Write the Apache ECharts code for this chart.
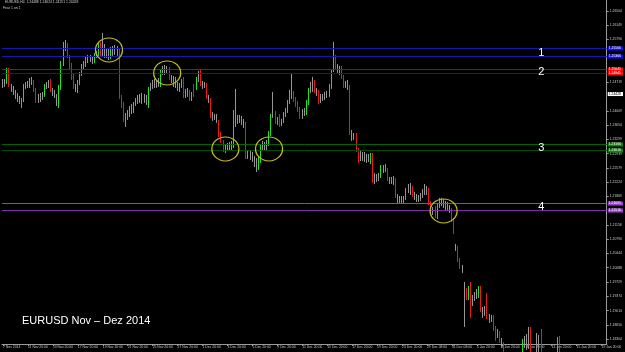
<!DOCTYPE html>
<html>
<head>
<meta charset="utf-8">
<script src="https://cdn.jsdelivr.net/npm/echarts@6/dist/echarts.min.js"></script>
<style>
  html, body { margin: 0; padding: 0; background: #000; }
  #chart { width: 625px; height: 352px; }
</style>
</head>
<body>
<div id="chart"></div>
<script>
// EURUSD H4 candles, 7 Nov 2014 .. 15 Jan 2015, one row = 12 bars (2 days)
const dateLabels = [
  '7 Nov 2014', '11 Nov 20:00', '13 Nov 20:00', '17 Nov 20:00', '19 Nov 20:00',
  '21 Nov 20:00', '25 Nov 20:00', '27 Nov 20:00', '1 Dec 20:00', '3 Dec 20:00',
  '5 Dec 20:00', '9 Dec 20:00', '11 Dec 20:00', '15 Dec 20:00', '17 Dec 20:00',
  '19 Dec 20:00', '23 Dec 20:00', '29 Dec 08:00', '31 Dec 08:00', '5 Jan 20:00',
  '7 Jan 20:00', '9 Jan 20:00', '13 Jan 20:00', '15 Jan 20:00', '19 Jan 20:00'
]
const slotCount = 291

const opens = [
  1.2473, 1.2468, 1.2473, 1.2503, 1.2463, 1.2458, 1.2448, 1.24405, 1.2433, 1.24155, 1.2428, 1.2463,
  1.2463, 1.24605, 1.2478, 1.2473, 1.2453, 1.2428, 1.24355, 1.2433, 1.24405, 1.2463, 1.24655, 1.24755,
  1.2453, 1.24455, 1.2438, 1.2418, 1.2458, 1.25155, 1.2558, 1.25655, 1.2533, 1.2513, 1.2483, 1.24605,
  1.24505, 1.24705, 1.2493, 1.2513, 1.25155, 1.2533, 1.2528, 1.25305, 1.25255, 1.25405, 1.25405, 1.25655,
  1.2543, 1.2548, 1.25405, 1.25455, 1.25355, 1.25505, 1.25455, 1.25405, 1.2553, 1.24355, 1.2418, 1.2368,
  1.23855, 1.2393, 1.2408, 1.24005, 1.2418, 1.24255, 1.2433, 1.24255, 1.24355, 1.2428, 1.2413, 1.24555,
  1.2463, 1.2468, 1.2463, 1.24705, 1.24655, 1.2498, 1.2503, 1.2498, 1.2503, 1.2483, 1.24655, 1.2478,
  1.2468, 1.2458, 1.2463, 1.24805, 1.24405, 1.2448, 1.24455, 1.24305, 1.2463, 1.2458, 1.2478, 1.24955,
  1.2468, 1.2463, 1.24655, 1.24355, 1.2428, 1.2388, 1.2383, 1.23855, 1.2373, 1.23405, 1.2323, 1.2303,
  1.2308, 1.2313, 1.2308, 1.2313, 1.2393, 1.2383, 1.2378, 1.2383, 1.2373, 1.23655, 1.2288, 1.22955,
  1.2288, 1.22805, 1.22705, 1.2263, 1.2278, 1.23105, 1.23155, 1.23105, 1.2318, 1.2343, 1.2388, 1.23955,
  1.2373, 1.2388, 1.2368, 1.23755, 1.23905, 1.24005, 1.2423, 1.24355, 1.2443, 1.2428, 1.2418, 1.24055,
  1.2388, 1.23955, 1.23955, 1.2418, 1.2453, 1.2458, 1.2473, 1.24505, 1.2448, 1.24255, 1.2433, 1.24355,
  1.2438, 1.24405, 1.24605, 1.2503, 1.2533, 1.25105, 1.2503, 1.2508, 1.24855, 1.2463, 1.2468, 1.24605,
  1.2343, 1.2333, 1.23405, 1.2303, 1.2283, 1.22905, 1.2283, 1.2288, 1.22805, 1.2273, 1.22905, 1.22255,
  1.22355, 1.22305, 1.2238, 1.2258, 1.2253, 1.2253, 1.22305, 1.22255, 1.2228, 1.2228, 1.2188, 1.2178,
  1.21805, 1.21755, 1.2183, 1.2203, 1.2208, 1.2208, 1.21905, 1.21855, 1.21805, 1.2183, 1.2188, 1.21955,
  1.2203, 1.2203, 1.21705, 1.2148, 1.2158, 1.21355, 1.2163, 1.21705, 1.21755, 1.21555, 1.2168, 1.2158,
  1.2153, 1.2128, 1.2063, 1.2058, 1.2028, 1.20105, 1.19505, 1.1953, 1.1933, 1.1953, 1.19205, 1.19305,
  1.1938, 1.1938, 1.1958, 1.1903, 1.18955, 1.1938, 1.18855, 1.1878, 1.18855, 1.1858, 1.18405, 1.18455,
  1.18255, 1.1818, 1.1798, 1.17905, 1.1783, 1.1763, 1.17705, 1.1778, 1.1773, 1.1783, 1.1798, 1.18255,
  1.18205, 1.1813, 1.1853, 1.1803, 1.1793, 1.18005, 1.1813, 1.18505, 1.1803, 1.1788, 1.1783, 1.17905,
  1.17855, 1.1793, 1.1798, 1.1798, 1.1833, 1.1803
]
const closes = [
  1.2468, 1.2473, 1.2503, 1.24655, 1.2458, 1.2448, 1.2438, 1.2433, 1.24255, 1.2428, 1.2463, 1.24655,
  1.2468, 1.2478, 1.2473, 1.2453, 1.24255, 1.24355, 1.24305, 1.24405, 1.2463, 1.24655, 1.24705, 1.2453,
  1.24455, 1.2438, 1.2433, 1.2458, 1.25205, 1.2558, 1.25655, 1.2538, 1.2513, 1.2483, 1.24605, 1.24555,
  1.24705, 1.2493, 1.2513, 1.2518, 1.2533, 1.2528, 1.2533, 1.25255, 1.25405, 1.2543, 1.25655, 1.2543,
  1.2548, 1.25405, 1.25455, 1.25405, 1.25505, 1.25455, 1.2548, 1.25555, 1.24355, 1.24155, 1.2378, 1.2388,
  1.23955, 1.2408, 1.2403, 1.2418, 1.24255, 1.2433, 1.24255, 1.24355, 1.2428, 1.2433, 1.24555, 1.2463,
  1.2468, 1.2463, 1.24705, 1.24655, 1.2498, 1.2503, 1.2498, 1.2503, 1.2483, 1.2478, 1.2483, 1.2468,
  1.2458, 1.2463, 1.2473, 1.2438, 1.2448, 1.2443, 1.2428, 1.2438, 1.24455, 1.2478, 1.2488, 1.2468,
  1.2463, 1.2468, 1.24355, 1.2428, 1.2388, 1.2383, 1.23855, 1.2378, 1.23405, 1.23255, 1.2303, 1.2308,
  1.2313, 1.2308, 1.23155, 1.23955, 1.2383, 1.2378, 1.2383, 1.2373, 1.23655, 1.22855, 1.22955, 1.2288,
  1.22805, 1.22705, 1.2263, 1.2283, 1.2313, 1.23155, 1.2308, 1.2318, 1.23455, 1.2388, 1.2393, 1.2373,
  1.2378, 1.23655, 1.2373, 1.2393, 1.2403, 1.2423, 1.2433, 1.2443, 1.2428, 1.24155, 1.2403, 1.23855,
  1.23955, 1.2398, 1.24205, 1.2453, 1.2458, 1.2463, 1.24505, 1.24455, 1.2423, 1.2433, 1.24355, 1.24405,
  1.2443, 1.2463, 1.2498, 1.2533, 1.25105, 1.2503, 1.2498, 1.24855, 1.2463, 1.2468, 1.24605, 1.23455,
  1.2333, 1.2338, 1.2303, 1.2283, 1.22905, 1.2283, 1.2288, 1.22805, 1.22855, 1.22905, 1.22255, 1.22355,
  1.22305, 1.2238, 1.2258, 1.2253, 1.22605, 1.22305, 1.22255, 1.2228, 1.2223, 1.2188, 1.2178, 1.21805,
  1.21755, 1.21805, 1.2203, 1.2208, 1.2203, 1.21905, 1.21855, 1.21805, 1.2183, 1.2188, 1.21955, 1.2203,
  1.2198, 1.21705, 1.2148, 1.2153, 1.2138, 1.2163, 1.21705, 1.21755, 1.2168, 1.21705, 1.2158, 1.2153,
  1.2128, 1.2098, 1.2058, 1.2028, 1.20105, 1.2003, 1.19455, 1.1933, 1.1953, 1.1913, 1.19305, 1.1938,
  1.1948, 1.19555, 1.1903, 1.1893, 1.1903, 1.18855, 1.1878, 1.1883, 1.18555, 1.18305, 1.1848, 1.18255,
  1.1818, 1.1798, 1.17905, 1.1783, 1.1763, 1.17705, 1.1778, 1.1773, 1.1783, 1.1793, 1.18255, 1.18205,
  1.1813, 1.1823, 1.1803, 1.1793, 1.18005, 1.18105, 1.18055, 1.1803, 1.1788, 1.1783, 1.17905, 1.17855,
  1.1793, 1.1798, 1.17905, 1.1828, 1.1803, 1.1798
]
const lows = [
  1.2458, 1.24605, 1.2468, 1.24605, 1.2448, 1.24405, 1.24305, 1.2423, 1.2418, 1.2408, 1.2423, 1.24555,
  1.2458, 1.2458, 1.24655, 1.2448, 1.24205, 1.24205, 1.2423, 1.2428, 1.24355, 1.24555, 1.2458, 1.2448,
  1.2438, 1.2433, 1.2413, 1.2408, 1.2453, 1.2513, 1.25505, 1.2533, 1.2503, 1.2478, 1.24555, 1.2448,
  1.24455, 1.24655, 1.2488, 1.25055, 1.25105, 1.25205, 1.2523, 1.2518, 1.25205, 1.2533, 1.2538, 1.25355,
  1.25355, 1.2533, 1.2533, 1.2528, 1.25305, 1.2538, 1.25405, 1.2538, 1.24305, 1.2408, 1.2373, 1.23605,
  1.2378, 1.23855, 1.2393, 1.23955, 1.2413, 1.2418, 1.24205, 1.2418, 1.24205, 1.24155, 1.2408, 1.24505,
  1.24555, 1.2458, 1.2458, 1.24605, 1.24605, 1.24905, 1.24905, 1.2493, 1.2478, 1.24705, 1.24605, 1.2458,
  1.24505, 1.2448, 1.2458, 1.2433, 1.2433, 1.24355, 1.24255, 1.24255, 1.24355, 1.2453, 1.2473, 1.2463,
  1.24555, 1.2458, 1.24305, 1.24205, 1.2383, 1.23755, 1.2378, 1.23705, 1.23355, 1.23205, 1.2298, 1.22955,
  1.23005, 1.2303, 1.23005, 1.2308, 1.23605, 1.2368, 1.23705, 1.23655, 1.2358, 1.22805, 1.22805, 1.2278,
  1.2273, 1.22605, 1.2248, 1.2253, 1.22705, 1.23005, 1.23005, 1.2303, 1.2313, 1.2338, 1.2383, 1.2368,
  1.23655, 1.23605, 1.2363, 1.23705, 1.23855, 1.23955, 1.2418, 1.24305, 1.2423, 1.24105, 1.2398, 1.23805,
  1.23805, 1.2388, 1.23905, 1.24155, 1.24455, 1.2448, 1.24455, 1.2438, 1.2418, 1.24205, 1.24255, 1.2428,
  1.2433, 1.24355, 1.24555, 1.2498, 1.25055, 1.24955, 1.24905, 1.24805, 1.2458, 1.2458, 1.2453, 1.23405,
  1.23255, 1.2328, 1.2298, 1.22705, 1.22755, 1.22755, 1.2273, 1.22705, 1.2273, 1.2268, 1.22205, 1.2218,
  1.2223, 1.22255, 1.2233, 1.22455, 1.2248, 1.22255, 1.2218, 1.2218, 1.22155, 1.2183, 1.21705, 1.21705,
  1.2168, 1.21705, 1.2178, 1.21955, 1.21905, 1.21855, 1.2178, 1.2173, 1.2173, 1.21755, 1.2183, 1.21905,
  1.21905, 1.21655, 1.2143, 1.21405, 1.2133, 1.21305, 1.2158, 1.2163, 1.2158, 1.21505, 1.21505, 1.21455,
  1.2123, 1.2093, 1.20505, 1.2023, 1.20055, 1.19955, 1.18605, 1.1928, 1.1928, 1.1883, 1.1913, 1.19255,
  1.19305, 1.1933, 1.1898, 1.1883, 1.1888, 1.18805, 1.18705, 1.1873, 1.18505, 1.18255, 1.1833, 1.18205,
  1.1808, 1.17905, 1.1778, 1.1773, 1.1753, 1.17555, 1.1763, 1.1763, 1.1768, 1.17755, 1.1793, 1.1808,
  1.1803, 1.18055, 1.17955, 1.1783, 1.17855, 1.17955, 1.1798, 1.1798, 1.1778, 1.1773, 1.17755, 1.17755,
  1.1778, 1.1783, 1.1783, 1.1793, 1.17955, 1.1788
]
const highs = [
  1.24805, 1.24805, 1.2508, 1.2508, 1.2468, 1.2463, 1.2453, 1.24455, 1.2438, 1.2433, 1.2468, 1.2473,
  1.24755, 1.2483, 1.24855, 1.2478, 1.2458, 1.2443, 1.24455, 1.2448, 1.2468, 1.2473, 1.2478, 1.24805,
  1.2458, 1.2453, 1.2443, 1.24655, 1.25255, 1.2573, 1.2578, 1.25705, 1.25405, 1.25205, 1.2493, 1.2468,
  1.2478, 1.2498, 1.2518, 1.25255, 1.2538, 1.25405, 1.25405, 1.2538, 1.25455, 1.25505, 1.25705, 1.2573,
  1.25955, 1.2568, 1.25555, 1.2558, 1.25605, 1.2563, 1.25655, 1.2563, 1.2558, 1.24405, 1.2423, 1.23955,
  1.2403, 1.2413, 1.2418, 1.2423, 1.2433, 1.24405, 1.2443, 1.24455, 1.2443, 1.24405, 1.24605, 1.24705,
  1.2478, 1.24805, 1.2478, 1.2483, 1.2503, 1.2513, 1.25155, 1.2513, 1.25105, 1.24905, 1.2488, 1.24855,
  1.2473, 1.24705, 1.24805, 1.24855, 1.24555, 1.2458, 1.2453, 1.2448, 1.2468, 1.24855, 1.25005, 1.25055,
  1.24755, 1.2473, 1.24705, 1.24405, 1.2433, 1.2398, 1.2393, 1.2393, 1.2378, 1.2348, 1.2328, 1.23155,
  1.23205, 1.2323, 1.23255, 1.2403, 1.24555, 1.23905, 1.23905, 1.2388, 1.23805, 1.2373, 1.2303, 1.2303,
  1.2298, 1.2288, 1.2283, 1.2288, 1.2318, 1.23255, 1.2323, 1.2328, 1.23505, 1.2393, 1.2448, 1.24005,
  1.23855, 1.2393, 1.23805, 1.2398, 1.2408, 1.2428, 1.2453, 1.24955, 1.24505, 1.24355, 1.24255, 1.24105,
  1.24055, 1.2408, 1.2428, 1.2458, 1.2473, 1.24855, 1.2478, 1.2458, 1.2453, 1.2443, 1.2443, 1.2448,
  1.24505, 1.2468, 1.2503, 1.2573, 1.25405, 1.2518, 1.2513, 1.2513, 1.24905, 1.24755, 1.2478, 1.24655,
  1.2353, 1.23455, 1.23455, 1.2308, 1.23005, 1.2298, 1.2298, 1.2293, 1.2293, 1.22955, 1.22955, 1.22455,
  1.2243, 1.22455, 1.22655, 1.22655, 1.2268, 1.2258, 1.22355, 1.22355, 1.2238, 1.2233, 1.2193, 1.2188,
  1.2188, 1.2188, 1.2208, 1.2218, 1.22205, 1.2213, 1.2198, 1.2193, 1.21905, 1.21955, 1.22055, 1.2218,
  1.2213, 1.2208, 1.21755, 1.21605, 1.2163, 1.2168, 1.2183, 1.2183, 1.21805, 1.21755, 1.2173, 1.21655,
  1.2158, 1.2133, 1.2068, 1.2063, 1.2033, 1.20155, 1.1973, 1.1958, 1.1963, 1.1973, 1.19405, 1.1948,
  1.19555, 1.1963, 1.1963, 1.19105, 1.1913, 1.19455, 1.1893, 1.18905, 1.18905, 1.1863, 1.18555, 1.18505,
  1.1833, 1.1823, 1.1808, 1.18005, 1.1793, 1.1783, 1.17905, 1.1798, 1.1803, 1.1813, 1.18305, 1.1838,
  1.1843, 1.18605, 1.18605, 1.1813, 1.18155, 1.18455, 1.18405, 1.18555, 1.18105, 1.18005, 1.1803, 1.18055,
  1.1808, 1.18105, 1.1813, 1.18355, 1.1838, 1.18155
]

const priceTicks = [
  1.26504, 1.26149, 1.25790, 1.24719, 1.24009, 1.23654, 1.23299, 1.22939, 1.22579, 1.22224,
  1.21869, 1.21158, 1.20790, 1.20444, 1.20088, 1.19729, 1.19374, 1.19014, 1.18650, 1.18304
]
const priceMin = 1.18179
const priceMax = 1.26779

// support / resistance pairs 1..4 and the bid tag
const levelNames = ['1', '2', '3', '4']
const levelPrices = [1.25566, 1.25366, 1.25041, 1.24941, 1.23166, 1.23016, 1.21691, 1.21516]
const bidPrice = 1.24428
const levelNameBar = 259

// yellow circles
const circleBars = [51, 79, 107, 128, 212]
const circlePrices = [1.2553, 1.24955, 1.23055, 1.23055, 1.21505]

const LINE_COLORS = ['#1616b0', '#1616b0', '#c00000', '#7a0000', '#006400', '#005000', '#9a3cc8', '#7a30a4']
const BOX_COLORS = ['#1010ff', '#1010ff', '#ff0d0d', '#ff0d0d', '#0a8a0a', '#0a8a0a', '#a23fd6', '#a23fd6']
const FONT = 'Liberation Sans'
const TINY = 3.4

const slots = Array.from({ length: slotCount }, (_, i) => String(i))

const BODY_MIN = 0.0012
const candles = opens.map((o, i) => {
  const c = closes[i]
  const big = Math.abs(c - o) >= BODY_MIN
  const col = big ? (c > o ? '#1ee61e' : '#e81a1a') : '#969696'
  return {
    value: [o, c, lows[i], highs[i]],
    itemStyle: { color: col, color0: col, borderColor: col, borderColor0: col },
  }
})

const boxLabel = (bg, fg) => ({
  show: true,
  position: 'end',
  distance: 1,
  formatter: (p) => Number(p.value).toFixed(5),
  backgroundColor: bg,
  color: fg,
  fontSize: TINY,
  fontFamily: FONT,
  padding: [1, 2, 0, 1],
})

const levelLines = levelPrices.map((v, i) => ({
  yAxis: v,
  lineStyle: { color: LINE_COLORS[i], width: 1, type: 'solid', opacity: 1 },
  label: boxLabel(BOX_COLORS[i], '#fff'),
}))
levelLines.push({
  yAxis: bidPrice,
  lineStyle: { color: 'rgba(0,0,0,0)', width: 0 },
  label: boxLabel('#ffffff', '#000'),
})

const namePoints = levelNames.map((name, k) => ({
  coord: [levelNameBar, (levelPrices[2 * k] + levelPrices[2 * k + 1]) / 2],
  symbol: 'circle',
  symbolSize: 1,
  itemStyle: { color: 'rgba(0,0,0,0)' },
  label: { show: true, position: 'inside', formatter: name, color: '#fff', fontSize: 11, fontFamily: FONT },
}))
const circlePoints = circleBars.map((b, k) => ({
  coord: [b, circlePrices[k]],
  symbol: 'circle',
  symbolSize: [27, 24],
  itemStyle: { color: 'rgba(0,0,0,0)', borderColor: '#c4be1c', borderWidth: 1.2 },
  label: { show: false },
}))

const chart = echarts.init(document.getElementById('chart'))
chart.setOption({
  backgroundColor: '#000',
  animation: false,
  grid: { left: 1, right: 17, top: 0, bottom: 8 },
  xAxis: {
    type: 'category',
    data: slots,
    boundaryGap: true,
    axisLine: { show: true, lineStyle: { color: '#9a9a9a', width: 1 } },
    axisTick: {
      show: true,
      alignWithLabel: true,
      interval: (i) => i % 12 === 0,
      length: 2,
      lineStyle: { color: '#9a9a9a' },
    },
    axisLabel: {
      interval: (i) => i % 12 === 0,
      formatter: (v, i) => dateLabels[i / 12] || '',
      align: 'left',
      fontSize: TINY,
      fontFamily: FONT,
      color: '#c8c8c8',
      margin: 2,
    },
    splitLine: { show: false },
  },
  yAxis: {
    type: 'value',
    position: 'right',
    min: priceMin,
    max: priceMax,
    axisLine: { show: true, lineStyle: { color: '#9a9a9a', width: 1 } },
    axisTick: { show: true, length: 2, customValues: priceTicks, lineStyle: { color: '#9a9a9a' } },
    axisLabel: {
      customValues: priceTicks,
      formatter: (v) => v.toFixed(5),
      fontSize: TINY,
      fontFamily: FONT,
      color: '#c8c8c8',
      margin: 3,
    },
    splitLine: { show: false },
  },
  graphic: [
    {
      type: 'text',
      left: 5,
      top: 1,
      style: { text: 'EURUSD,H4  1.24488 1.24624 1.24251 1.24428', fill: '#cfcfcf', font: TINY + 'px "Liberation Sans"' },
    },
    {
      type: 'text',
      left: 3,
      top: 7,
      style: { text: 'Fear 1 on 1', fill: '#cfcfcf', font: TINY + 'px "Liberation Sans"' },
    },
    {
      type: 'text',
      left: 22,
      top: 315,
      style: { text: 'EURUSD Nov \u2013 Dez 2014', fill: '#ffffff', font: '11px "Liberation Sans"' },
    },
  ],
  series: [
    {
      name: 'EURUSD',
      type: 'candlestick',
      data: candles,
      barWidth: 1,
      clip: true,
      itemStyle: { borderWidth: 1 },
      markLine: { symbol: 'none', silent: true, animation: false, precision: 5, data: levelLines },
      markPoint: { silent: true, animation: false, data: namePoints.concat(circlePoints) },
    },
  ],
})
</script>
</body>
</html>
